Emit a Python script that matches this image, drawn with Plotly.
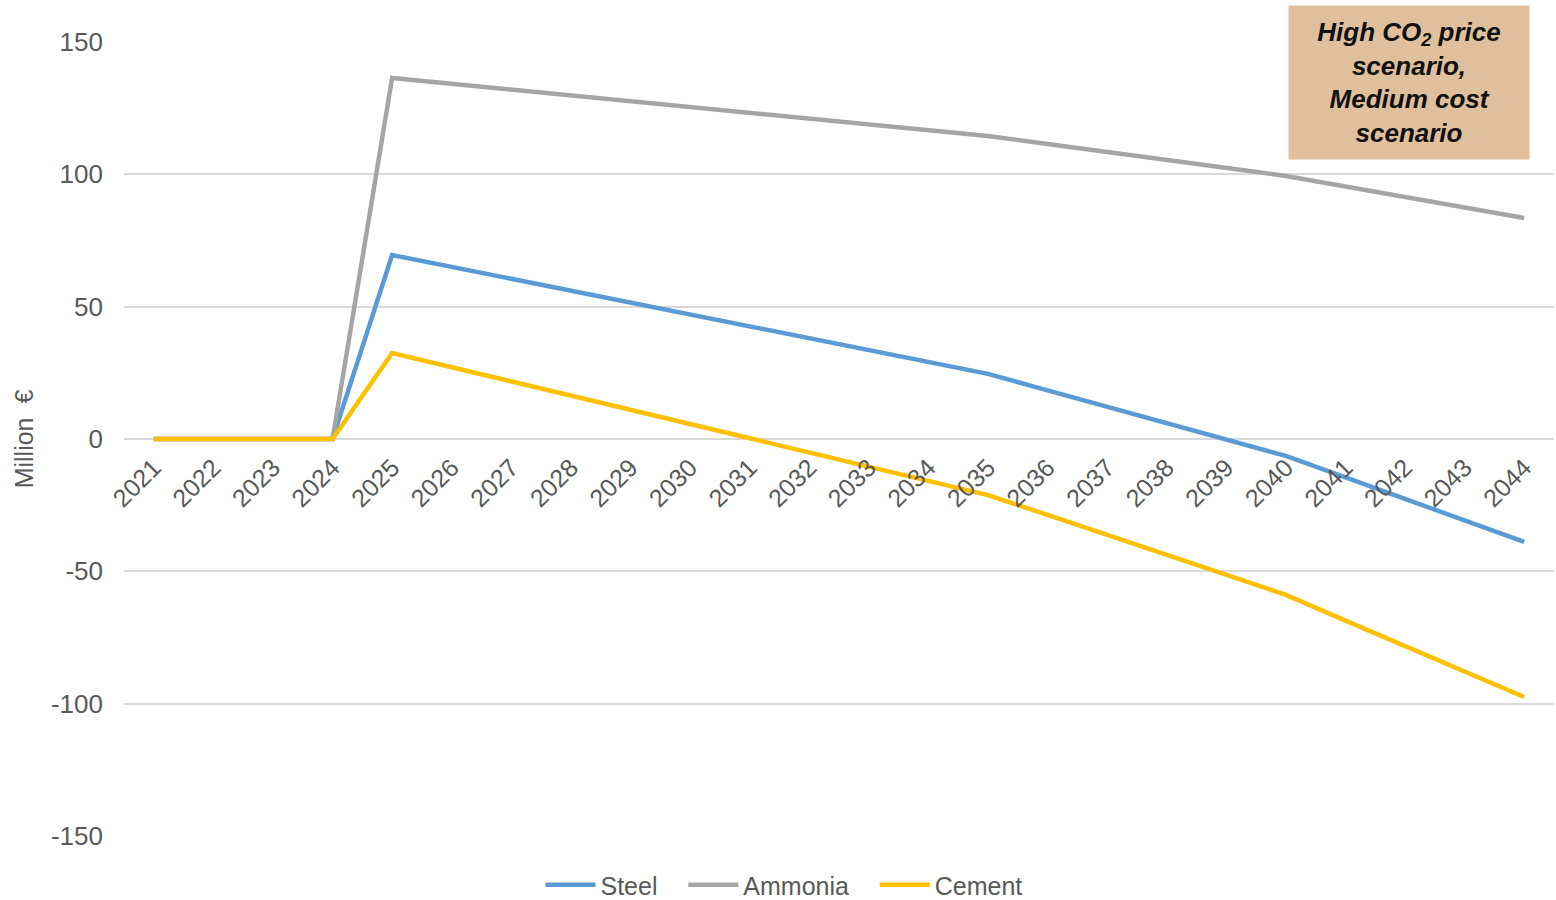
import plotly.graph_objects as go

years = [str(y) for y in range(2021, 2045)]

steel = [0, 0, 0, 0, 69.5, 65.0, 60.5, 56.0, 51.5, 47.1, 42.6, 38.1, 33.6, 29.1, 24.6,
         18.4, 12.2, 6.0, -0.2, -6.4, -14.5, -22.7, -30.8, -38.9]
ammonia = [0, 0, 0, 0, 136.4, 134.2, 132.0, 129.8, 127.6, 125.4, 123.3, 121.1, 118.9, 116.7, 114.5,
           111.5, 108.5, 105.4, 102.4, 99.4, 95.4, 91.4, 87.5, 83.5]
cement = [0, 0, 0, 0, 32.5, 27.1, 21.8, 16.4, 11.0, 5.6, 0.3, -5.1, -10.5, -15.8, -21.2,
          -28.7, -36.3, -43.8, -51.4, -58.9, -68.6, -78.2, -87.9, -97.5]

series_names = ["Steel", "Ammonia", "Cement"]
series_colors = ["#5B9BD5", "#A5A5A5", "#FFC000"]

y_tickvals = [-150, -100, -50, 0, 50, 100, 150]
y_ticktext = ["-150", "-100", "-50", "0", "50", "100", "150"]

FONT = "Liberation Sans, Arial, sans-serif"
GREY = "#595959"
FS = 26
PAD = "\u00a0\u00a0\u00a0"

fig = go.Figure()
for i, (name, vals, col) in enumerate(zip(series_names, [steel, ammonia, cement], series_colors)):
    label = name + (PAD if i < len(series_names) - 1 else "")
    fig.add_trace(go.Scatter(x=years, y=vals, name=label, mode="lines",
                             line=dict(color=col, width=4.5)))

fig.update_layout(
    width=1556, height=900,
    margin=dict(l=124, r=2, t=42, b=64, autoexpand=False),
    paper_bgcolor="white", plot_bgcolor="white",
    font=dict(family=FONT, size=FS, color=GREY),
    showlegend=True,
    legend=dict(orientation="h", x=(784 - 124) / 1430, xanchor="center",
                y=-(885 - 836) / 794, yanchor="middle",
                font=dict(size=25, color=GREY), itemwidth=50, tracegroupgap=0),
    xaxis=dict(type="category", anchor="free", position=0.5, automargin=False,
               range=[-0.5, len(years) - 0.5],
               showgrid=False, showline=False, zeroline=False,
               tickangle=-45, tickfont=dict(size=25, color=GREY),
               ticks="", ticklabelstandoff=8),
    yaxis=dict(range=[-150, 150], tickvals=y_tickvals, ticktext=y_ticktext, automargin=False,
               showgrid=True, gridcolor="#D9D9D9", gridwidth=1.5,
               zeroline=True, zerolinecolor="#D9D9D9", zerolinewidth=1.5,
               showline=False, ticks="", ticklabelstandoff=20,
               tickfont=dict(size=FS, color=GREY),
               title=dict(text="Million  €", font=dict(size=FS - 1, color=GREY), standoff=10)),
)

fig.add_annotation(
    xref="paper", yref="paper",
    x=(1409 - 124) / 1430, y=(836 - 82.5) / 794,
    xanchor="center", yanchor="middle",
    text="<b><i>High CO<sub>2</sub> price<br>scenario,<br>Medium cost<br>scenario</i></b>",
    showarrow=False, align="center",
    font=dict(family=FONT, size=26, color="#111111"),
    bgcolor="#E0BF9D", width=238, height=151,
)

fig.write_html("out.html")
